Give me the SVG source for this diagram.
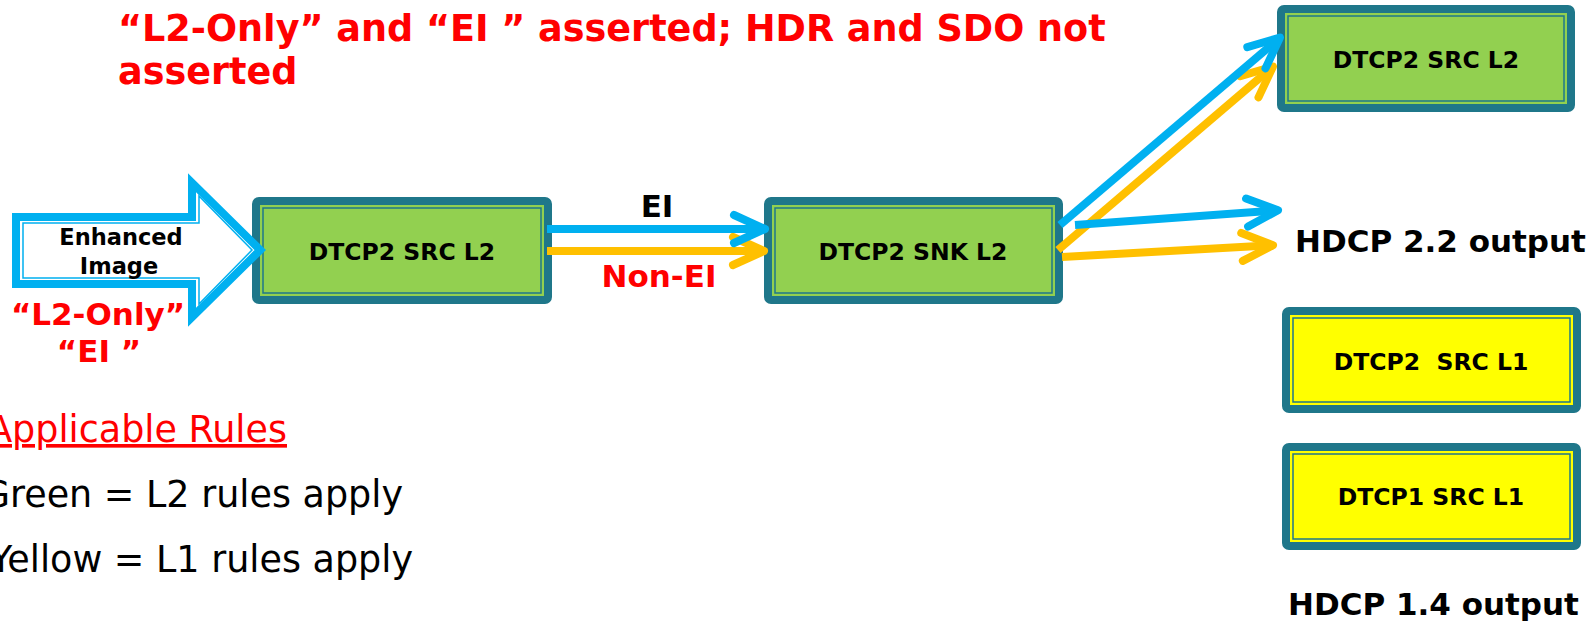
<svg xmlns="http://www.w3.org/2000/svg" width="1596" height="621" viewBox="0 0 1596 621">
<style>
.box-outer{stroke:#1F778A;stroke-width:8}
.box-inner{fill:none;stroke:#1F778A;stroke-width:1.5}
.g{fill:#92D050}
.y{fill:#FFFF00}
.bt{font-family:"DejaVu Sans",Verdana,sans-serif;font-weight:bold;font-size:23.5px;fill:#000;text-anchor:middle}
.lbl{font-family:"DejaVu Sans",Verdana,sans-serif;font-weight:bold;font-size:31px}
.red{fill:#FF0000}
.blk{fill:#000}
.leg{font-family:"DejaVu Sans",Verdana,sans-serif;font-size:36.5px;text-anchor:end}
.cb{fill:none;stroke:#00B0F0;stroke-width:8}
.co{fill:none;stroke:#FFC000;stroke-width:8}
</style>
<defs>
<marker id="ab" markerUnits="userSpaceOnUse" orient="auto" markerWidth="60" markerHeight="60" refX="0" refY="0" viewBox="-40 -30 60 60" overflow="visible">
<path d="M-31,-14 L0,0 L-31,14" fill="none" stroke="#00B0F0" stroke-width="8" stroke-linecap="round" stroke-linejoin="round"/>
</marker>
<marker id="ao" markerUnits="userSpaceOnUse" orient="auto" markerWidth="60" markerHeight="60" refX="0" refY="0" viewBox="-40 -30 60 60" overflow="visible">
<path d="M-31,-14 L0,0 L-31,14" fill="none" stroke="#FFC000" stroke-width="8" stroke-linecap="round" stroke-linejoin="round"/>
</marker>
</defs>
<rect width="1596" height="621" fill="#fff"/>

<g id="title">
<text class="lbl red" x="118" y="41" style="font-size:36.6px">“L2-Only” and “EI ” asserted; HDR and SDO not</text>
<text class="lbl red" x="118" y="84" style="font-size:36.6px">asserted</text>
</g>

<g id="box1">
<rect class="box-outer g" x="256" y="201" width="292" height="99" rx="3"/>
<rect class="box-inner" x="263" y="208" width="278" height="85"/>
<text class="bt" x="402" y="260">DTCP2 SRC L2</text>
</g>

<g id="box2">
<rect class="box-outer g" x="768" y="201" width="291" height="99" rx="3"/>
<rect class="box-inner" x="775" y="208" width="277" height="85"/>
<text class="bt" x="913" y="260">DTCP2 SNK L2</text>
</g>

<g id="box3">
<rect class="box-outer g" x="1281" y="9" width="290" height="99" rx="3"/>
<rect class="box-inner" x="1288" y="16" width="276" height="85"/>
<text class="bt" x="1426" y="68">DTCP2 SRC L2</text>
</g>

<g id="box4">
<rect class="box-outer y" x="1286" y="311" width="291" height="98" rx="3"/>
<rect class="box-inner" x="1293" y="318" width="277" height="84"/>
<text class="bt" x="1431" y="370" xml:space="preserve">DTCP2  SRC L1</text>
</g>

<g id="box5">
<rect class="box-outer y" x="1286" y="447" width="291" height="99" rx="3"/>
<rect class="box-inner" x="1293" y="454" width="277" height="85"/>
<text class="bt" x="1431" y="505">DTCP1 SRC L1</text>
</g>

<g id="input-arrow">
<polygon points="16,217 192,217 192,182.7 260.3,250 192,317.3 192,284 16,284" fill="#fff" stroke="#00B0F0" stroke-width="8" stroke-linejoin="miter"/>
<polygon points="23,223 199,223 199,196 252,250 199,304 199,278 23,278" fill="none" stroke="#00B0F0" stroke-width="1.5"/>
<text class="lbl blk" x="121" y="245" text-anchor="middle" style="font-size:22.5px">Enhanced</text>
<text class="lbl blk" x="119" y="274" text-anchor="middle" style="font-size:22.5px">Image</text>
</g>

<g id="connectors">
<line class="co" x1="547" y1="251" x2="764" y2="251" marker-end="url(#ao)"/>
<line class="co" x1="1058" y1="250" x2="1273" y2="66.6" marker-end="url(#ao)"/>
<line class="co" x1="1062" y1="257" x2="1273" y2="245.2" marker-end="url(#ao)"/>
<line class="cb" x1="547" y1="229" x2="765" y2="229" marker-end="url(#ab)"/>
<line class="cb" x1="1060" y1="225" x2="1280" y2="37.6" marker-end="url(#ab)"/>
<line class="cb" x1="1075" y1="225" x2="1278" y2="210.3" marker-end="url(#ab)"/>
</g>

<g id="labels">
<text class="lbl red" x="98" y="325" text-anchor="middle">“L2-Only”</text>
<text class="lbl red" x="99" y="362" text-anchor="middle">“EI ”</text>
<text class="lbl blk" x="657" y="217" text-anchor="middle">EI</text>
<text class="lbl red" x="659" y="287" text-anchor="middle">Non-EI</text>
<text class="lbl blk" x="1295" y="252">HDCP 2.2 output</text>
<text class="lbl blk" x="1288" y="615">HDCP 1.4 output</text>
</g>

<g id="legend">
<text class="leg red" x="287" y="442" text-decoration="underline">Applicable Rules</text>
<text class="leg blk" x="403" y="507">Green = L2 rules apply</text>
<text class="leg blk" x="413" y="572">Yellow = L1 rules apply</text>
</g>
</svg>
